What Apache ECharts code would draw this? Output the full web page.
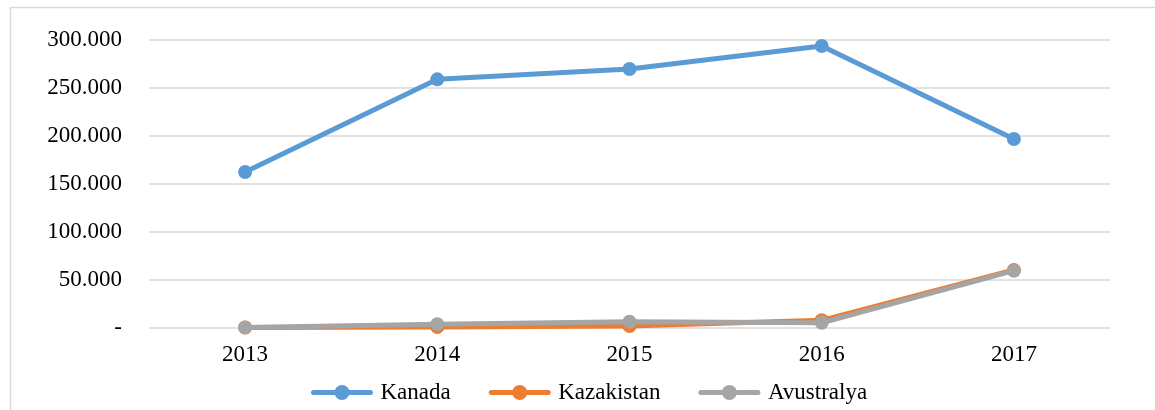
<!DOCTYPE html>
<html><head><meta charset="utf-8">
<script src="https://cdn.jsdelivr.net/npm/echarts@6/dist/echarts.min.js"></script>
<style>html,body{margin:0;padding:0;background:#fff}#c{width:1155px;height:410px}</style>
</head><body><div id="c"></div>
<script>
const years = ['2013','2014','2015','2016','2017'];
const kanada = [162500, 259000, 269800, 293800, 196900];
const kazakistan = [500, 1000, 2000, 8000, 60500];
const avustralya = [500, 4000, 6500, 5500, 59700];
const seriesNames = ['Kanada','Kazakistan','Avustralya'];
const colors = ['#5B9BD5','#ED7D31','#A5A5A5'];

function fmt(v){
  if(v===0) return '-';
  return String(v).replace(/\B(?=(\d{3})+(?!\d))/g,'.');
}
const chart = echarts.init(document.getElementById('c'));
const mk = (name, data, i) => ({
  name, type:'line', data, symbol:'circle', symbolSize:14,
  lineStyle:{width:5,color:colors[i]}, itemStyle:{color:colors[i]},
  z: 2+i
});
chart.setOption({
  animation:false,
  textStyle:{fontFamily:'Liberation Serif'},
  graphic:[{type:'rect',shape:{x:10.5,y:7.5,width:1160,height:420},style:{fill:'none',stroke:'#d9d9d9',lineWidth:1.5},silent:true}],
  grid:{left:149,right:45,top:40,bottom:82},
  legend:{top:376,left:306,itemWidth:57,itemHeight:19,itemGap:38,
    lineStyle:{width:5,cap:'round'},
    textStyle:{fontSize:23,color:'#000',fontFamily:'Liberation Serif',padding:[0,0,0,5]},
    data:seriesNames},
  xAxis:{type:'category',data:years,boundaryGap:true,
    axisLine:{show:false},axisTick:{show:false},
    axisLabel:{fontSize:23,color:'#000',margin:15}},
  yAxis:{type:'value',min:0,max:300000,interval:50000,
    axisLine:{show:false},axisTick:{show:false},
    splitLine:{lineStyle:{color:'#d9d9d9',width:1.5}},
    axisLabel:{fontSize:23,color:'#000',margin:27,formatter:fmt}},
  series:[mk('Kanada',kanada,0),mk('Kazakistan',kazakistan,1),mk('Avustralya',avustralya,2)]
});
</script></body></html>
